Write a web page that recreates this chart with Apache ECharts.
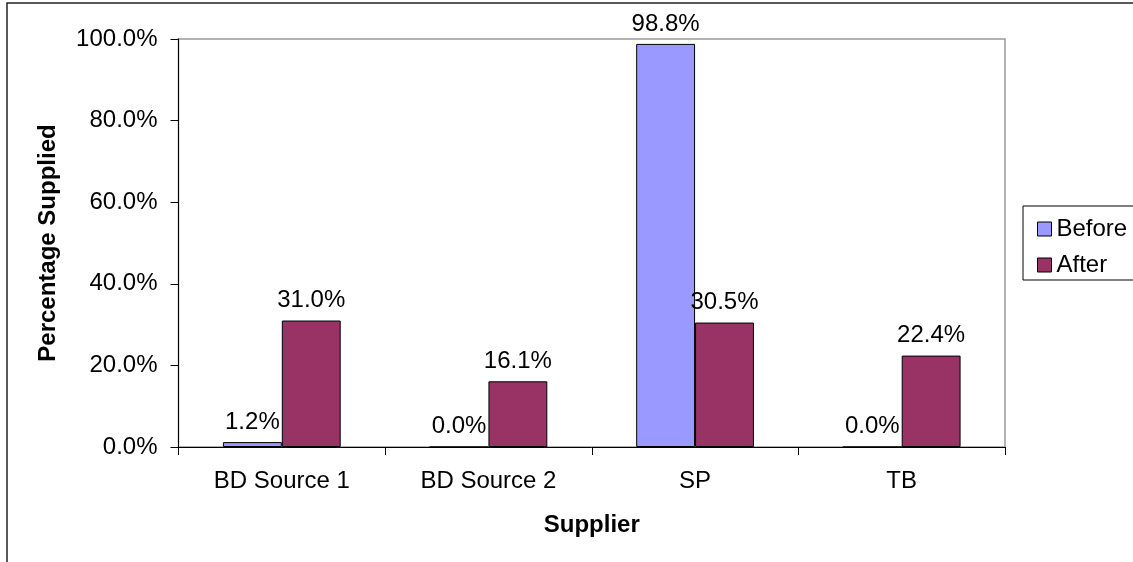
<!DOCTYPE html>
<html>
<head>
<meta charset="utf-8">
<script src="https://cdn.jsdelivr.net/npm/echarts@6/dist/echarts.min.js"></script>
<style>
html,body{margin:0;padding:0;background:#fff;}
#chart{width:1133px;height:562px;}
</style>
</head>
<body>
<div id="chart"></div>
<script>
const categories = ['BD Source 1', 'BD Source 2', 'SP', 'TB'];
const before = [1.2, 0.0, 98.8, 0.0];
const after = [31.0, 16.1, 30.5, 22.4];
const seriesNames = ['Before', 'After'];
const yTicks = [0, 20, 40, 60, 80, 100];

const FONT = 'Arial, "Liberation Sans", sans-serif';
const chart = echarts.init(document.getElementById('chart'), null, {renderer: 'canvas'});
const pct = v => Number(v).toFixed(1) + '%';
const labelCfg = {
  show: true, position: 'top', distance: 8,
  fontFamily: FONT, fontSize: 24, color: '#000',
  formatter: p => pct(p.value)
};
chart.setOption({
  animation: false,
  backgroundColor: '#fff',
  textStyle: {fontFamily: FONT},
  graphic: [
    {type: 'rect', shape: {x: 7, y: 3, width: 2000, height: 2000}, style: {fill: 'none', stroke: '#222', lineWidth: 1.5}, z: 100},
    {type: 'rect', shape: {x: 1023, y: 206, width: 300, height: 74}, style: {fill: 'none', stroke: '#000', lineWidth: 1}, z: 100}
  ],
  grid: {left: 178.5, right: 128, top: 39, bottom: 115, show: true, borderColor: '#999', borderWidth: 1.5, backgroundColor: '#fff'},
  legend: {
    orient: 'vertical', left: 1032, top: 212,
    icon: 'rect',
    itemWidth: 14, itemHeight: 14, itemGap: 12,
    data: seriesNames,
    textStyle: {fontFamily: FONT, fontSize: 24, color: '#000', lineHeight: 24},
    itemStyle: {borderColor: '#000', borderWidth: 1}
  },
  xAxis: {
    type: 'category', data: categories,
    name: 'Supplier', nameLocation: 'middle', nameGap: 66,
    nameTextStyle: {fontFamily: FONT, fontSize: 24, fontWeight: 'bold', color: '#000'},
    axisLine: {lineStyle: {color: '#000', width: 1}},
    axisTick: {show: true, length: 8, lineStyle: {color: '#000'}},
    axisLabel: {fontFamily: FONT, fontSize: 24, color: '#000', margin: 22}
  },
  yAxis: {
    type: 'value', min: 0, max: 100, interval: 20,
    name: 'Percentage Supplied', nameLocation: 'middle', nameGap: 118,
    nameTextStyle: {fontFamily: FONT, fontSize: 24, fontWeight: 'bold', color: '#000'},
    axisLine: {show: true, lineStyle: {color: '#000', width: 1}},
    axisTick: {show: true, length: 8, lineStyle: {color: '#000'}},
    splitLine: {show: false},
    axisLabel: {fontFamily: FONT, fontSize: 24, color: '#000', margin: 21, formatter: v => pct(v)}
  },
  series: [
    {name: seriesNames[0], type: 'bar', data: before, barGap: '0%', barCategoryGap: '43%',
     itemStyle: {color: '#9999FF', borderColor: '#000', borderWidth: 1}, label: labelCfg},
    {name: seriesNames[1], type: 'bar', data: after, barGap: '0%', barCategoryGap: '43%',
     itemStyle: {color: '#993366', borderColor: '#000', borderWidth: 1}, label: labelCfg}
  ]
});
</script>
</body>
</html>
